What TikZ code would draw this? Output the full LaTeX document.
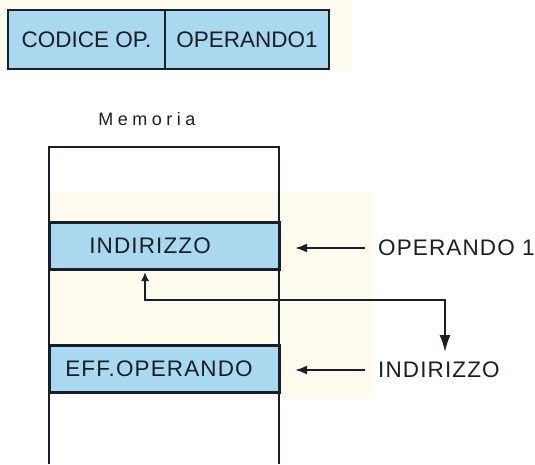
\documentclass[tikz,border=0pt]{standalone}
\usepackage{fontspec}
\setmainfont{Liberation Sans}
\newfontfamily\memfont[LetterSpace=25]{Liberation Sans}
\newfontfamily\lblfont[LetterSpace=5]{Liberation Sans}
\usetikzlibrary{arrows.meta}
\definecolor{cellblue}{RGB}{170,216,238}
\definecolor{paper}{RGB}{253,252,238}
\definecolor{ink}{RGB}{25,30,40}
\tikzset{
  topcell/.style={draw=ink, line width=2.4pt, fill=cellblue, minimum height=59pt, inner sep=0pt, text=ink, font=\fontsize{22.5}{22.5}\selectfont},
  memcell/.style={draw=ink, line width=3pt, fill=cellblue, minimum width=230pt, minimum height=47pt, inner sep=0pt},
  celltext/.style={text=ink, inner sep=0pt, font=\lblfont\fontsize{22.5}{22.5}\selectfont},
  sidelabel/.style={text=ink, inner sep=0pt, anchor=west, font=\lblfont\fontsize{22.5}{22.5}\selectfont},
  memline/.style={draw=ink, line width=2.2pt},
  leftarrow/.style={draw=ink, line width=2pt, -{Latex[length=12pt,width=9pt]}},
  linkarrow/.style={draw=ink, line width=1.8pt, {Latex[length=9pt,width=8pt]}-{Latex[length=17pt,width=11pt]}}
}
\begin{document}
\begin{tikzpicture}[x=1pt,y=-1pt]
\useasboundingbox (0,0) rectangle (535,464);
% paper tint
\fill[paper] (0,0) rectangle (352,70);
\fill[paper] (49,192) rectangle (373,397);
% instruction format
\node[topcell, minimum width=157pt] (codice) at (86.5,39.5) {CODICE OP.};
\node[topcell, minimum width=164pt] (opnd) at (247,39.5) {OPERANDO1};
% memory
\node[text=ink, inner sep=0pt, font=\memfont\fontsize{18}{18}\selectfont] (mem) at (147,119) {Memoria};
\draw[memline] (49,464) -- (49,147) -- (279,147) -- (279,464);
\node[memcell] (indcell) at (164,245.5) {};
\node[memcell] (effcell) at (164,368.5) {};
\node[celltext] (indtxt) at (150,246) {INDIRIZZO};
\node[celltext] (efftxt) at (159,369) {EFF.OPERANDO};
% side labels
\node[sidelabel] (op1) at (378,248) {OPERANDO 1};
\node[sidelabel] (ind2) at (378,370) {INDIRIZZO};
\coordinate (tip1) at (295,248);
\coordinate (tip2) at (295,370);
\draw[leftarrow] ([xshift=-13pt]op1.west) -- (tip1);
\draw[leftarrow] ([xshift=-13pt]ind2.west) -- (tip2);
% indirect link
\coordinate (upTip) at (145,272);
\coordinate (bend) at (145,300);
\coordinate (dnTip) at (445,352);
\draw[linkarrow] (upTip) -- (bend) -| (dnTip);
\end{tikzpicture}
\end{document}
